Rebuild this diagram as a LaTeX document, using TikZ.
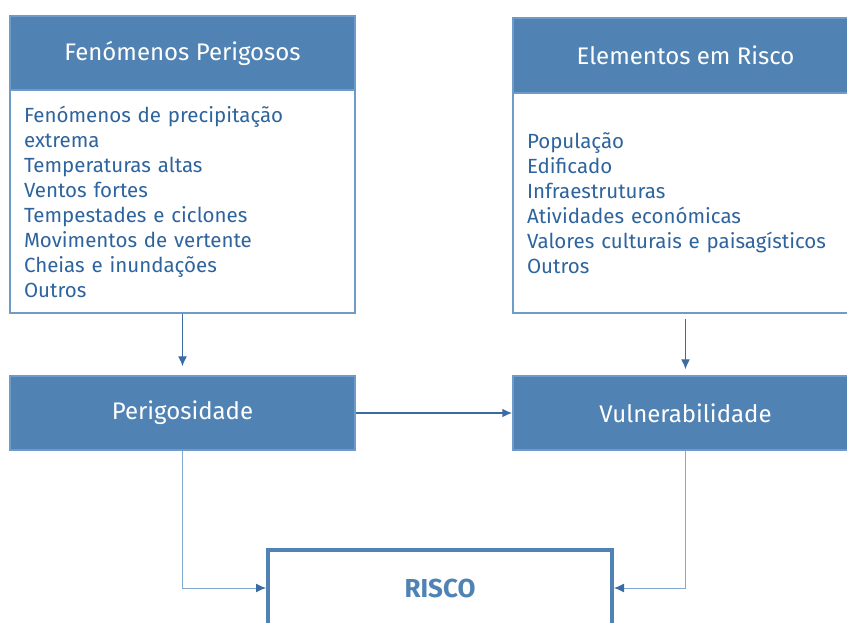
\documentclass[tikz,border=0pt]{standalone}
\usepackage{fontspec}
\setmainfont{Fira Sans}
\usetikzlibrary{arrows.meta,positioning}
\definecolor{azul}{RGB}{80,131,179}
\definecolor{azulborda}{RGB}{110,155,200}
\definecolor{azultexto}{RGB}{46,100,158}
\definecolor{azulseta}{RGB}{58,108,163}
\definecolor{azulclaro}{RGB}{130,170,208}

\begin{document}
\begin{tikzpicture}[x=1pt,y=-1pt,
  cabecalho/.style={draw=azulborda,fill=azul,text=white,line width=1.5pt,
    minimum width=345pt,minimum height=74pt,inner sep=0pt,
    font=\fontsize{24}{28}\selectfont},
  corpo/.style={draw=azulborda,fill=white,text=azultexto,line width=1.5pt,
    text width=317pt,inner xsep=14pt,inner ysep=0pt,align=left,
    minimum height=223pt,font=\fontsize{20.5}{25}\selectfont},
  seta/.style={azulseta,line width=1.3pt,-{Latex[length=10pt,width=9pt]}},
  fina/.style={azulclaro,line width=1pt,-{Latex[length=10pt,width=9pt,color=azulseta]}}]
\useasboundingbox (0,0) rectangle (847,623);
\clip (0,0) rectangle (847,623);

% caixas de cima
\node [cabecalho] (fenHdr) at (182.5,53) {Fenómenos Perigosos};
\node [corpo] (fenCorpo) at (182.5,201.5) {Fenómenos de precipitação\\extrema\\Temperaturas altas\\Ventos fortes\\Tempestades e ciclones\\Movimentos de vertente\\Cheias e inundações\\Outros};
\node [cabecalho,minimum height=75pt] (elemHdr) at (685.5,55.5) {Elementos em Risco};
\node [corpo,minimum height=220pt] (elemCorpo) at (685.5,203) {População\\Edificado\\Infraestruturas\\Atividades económicas\\Valores culturais e paisagísticos\\Outros};

% caixas do meio
\node [cabecalho] (perig) at (182.5,413) {Perigosidade};
\node [cabecalho] (vuln) at (685.5,413) {Vulnerabilidade};

% risco
\node [draw=azul,line width=4pt,fill=white,text=azul,minimum width=344pt,minimum height=76pt,
  font=\fontsize{26}{30}\selectfont\bfseries] (risco) at (440,588) {RISCO};

% ligacoes
\draw [seta,shorten >=9pt] (fenCorpo.south) -- (perig.north);
\draw [seta,shorten <=5pt,shorten >=6pt] (elemCorpo.south) -- (vuln.north);
\draw [seta,line width=1.8pt] (perig.east) -- (vuln.west);
\draw [fina] (perig.south) |- (risco.west);
\draw [fina] (vuln.south) |- (risco.east);
\end{tikzpicture}
\end{document}
